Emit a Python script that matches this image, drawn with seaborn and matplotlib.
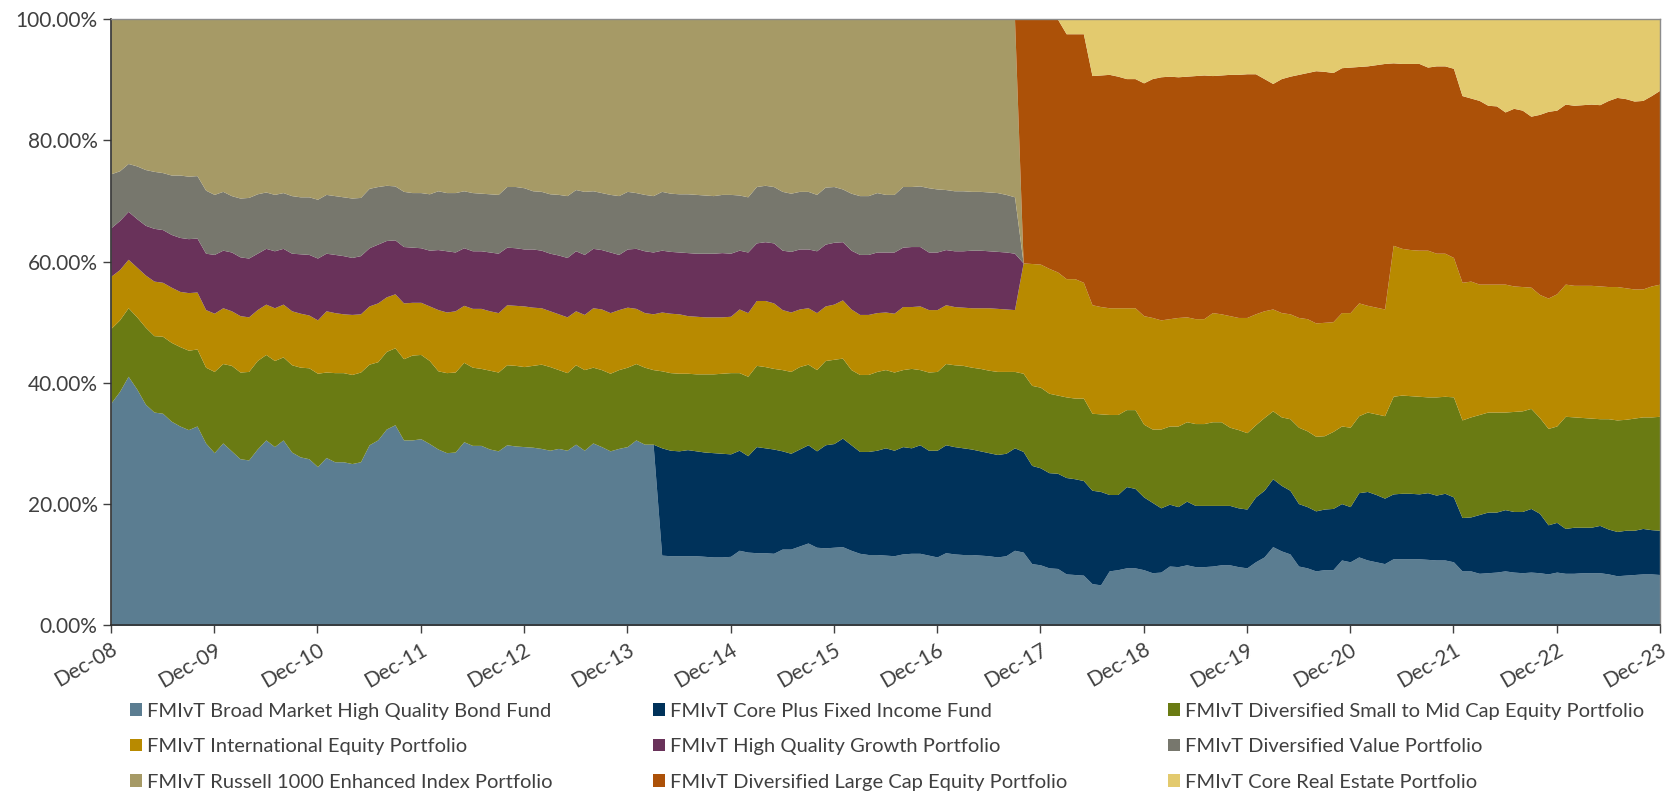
import matplotlib

matplotlib.use("Agg")
import matplotlib.pyplot as plt
import numpy as np
import seaborn as sns
from matplotlib.patches import Patch
from matplotlib.ticker import FuncFormatter

# monthly allocation (%) Dec-08 .. Dec-23
TICK_LABELS = ["Dec-08", "Dec-09", "Dec-10", "Dec-11", "Dec-12", "Dec-13", "Dec-14", "Dec-15",
               "Dec-16", "Dec-17", "Dec-18", "Dec-19", "Dec-20", "Dec-21", "Dec-22", "Dec-23"]

SERIES_NAMES = [
    "FMIvT Broad Market High Quality Bond Fund",
    "FMIvT Core Plus Fixed Income Fund",
    "FMIvT Diversified Small to Mid Cap Equity Portfolio",
    "FMIvT International Equity Portfolio",
    "FMIvT High Quality Growth Portfolio",
    "FMIvT Diversified Value Portfolio",
    "FMIvT Russell 1000 Enhanced Index Portfolio",
    "FMIvT Diversified Large Cap Equity Portfolio",
    "FMIvT Core Real Estate Portfolio",
]
COLORS = ["#5b7d91", "#00325a", "#6a7b13", "#b88a00", "#69325a",
          "#77776d", "#a69a66", "#ac5108", "#e3ca6e"]

bond = [
    36.7, 38.6, 41.1, 39.0, 36.5, 35.2, 35.0, 33.7, 32.9, 32.3,
    32.9, 30.1, 28.5, 30.1, 28.8, 27.5, 27.3, 29.1, 30.6, 29.5,
    30.6, 28.6, 27.8, 27.5, 26.2, 27.7, 27.0, 27.0, 26.7, 27.0,
    29.8, 30.6, 32.4, 33.1, 30.6, 30.6, 30.8, 30.0, 29.1, 28.5,
    28.6, 30.3, 29.7, 29.7, 29.1, 28.8, 29.8, 29.6, 29.5, 29.4,
    29.2, 28.9, 29.2, 28.9, 29.9, 28.9, 30.1, 29.5, 28.8, 29.2,
    29.5, 30.6, 29.9, 29.9, 11.6, 11.5, 11.5, 11.5, 11.5, 11.4,
    11.3, 11.3, 11.4, 12.4, 12.1, 12.0, 12.0, 11.9, 12.6, 12.6,
    13.1, 13.6, 12.9, 12.8, 12.9, 13.0, 12.4, 11.9, 11.7, 11.7,
    11.6, 11.5, 11.8, 11.9, 11.9, 11.6, 11.3, 12.0, 11.8, 11.7,
    11.7, 11.6, 11.5, 11.3, 11.5, 12.4, 12.1, 10.2, 10.0, 9.5,
    9.4, 8.5, 8.4, 8.3, 6.9, 6.7, 9.0, 9.2, 9.5, 9.5,
    9.2, 8.7, 8.8, 9.8, 9.7, 10.0, 9.7, 9.7, 9.8, 10.0,
    10.0, 9.7, 9.5, 10.5, 11.3, 13.0, 12.3, 11.8, 9.8, 9.5,
    9.0, 9.2, 9.2, 10.8, 10.5, 11.3, 10.8, 10.5, 10.2, 11.0,
    11.0, 11.0, 11.0, 10.9, 10.8, 10.8, 10.5, 9.0, 9.0, 8.6,
    8.7, 8.8, 9.0, 8.8, 8.7, 8.8, 8.7, 8.5, 8.8, 8.6,
    8.6, 8.7, 8.7, 8.7, 8.5, 8.2, 8.3, 8.4, 8.5, 8.5, 8.4,
]

core_plus = [
    0.0, 0.0, 0.0, 0.0, 0.0, 0.0, 0.0, 0.0, 0.0, 0.0,
    0.0, 0.0, 0.0, 0.0, 0.0, 0.0, 0.0, 0.0, 0.0, 0.0,
    0.0, 0.0, 0.0, 0.0, 0.0, 0.0, 0.0, 0.0, 0.0, 0.0,
    0.0, 0.0, 0.0, 0.0, 0.0, 0.0, 0.0, 0.0, 0.0, 0.0,
    0.0, 0.0, 0.0, 0.0, 0.0, 0.0, 0.0, 0.0, 0.0, 0.0,
    0.0, 0.0, 0.0, 0.0, 0.0, 0.0, 0.0, 0.0, 0.0, 0.0,
    0.0, 0.0, 0.0, 0.0, 17.7, 17.4, 17.3, 17.5, 17.3, 17.2,
    17.2, 17.1, 16.9, 16.5, 15.9, 17.5, 17.3, 17.2, 16.2, 15.8,
    16.0, 16.2, 15.9, 17.0, 17.1, 17.9, 17.4, 16.8, 17.0, 17.2,
    17.7, 17.4, 17.7, 17.4, 17.9, 17.3, 17.6, 17.8, 17.7, 17.6,
    17.4, 17.2, 17.0, 16.9, 16.9, 16.9, 16.6, 16.2, 16.0, 15.7,
    15.7, 15.9, 15.8, 15.6, 15.4, 15.4, 12.6, 12.4, 13.4, 13.1,
    12.0, 11.6, 10.6, 10.2, 9.9, 10.5, 10.1, 10.1, 10.0, 9.8,
    9.8, 9.7, 9.7, 10.7, 11.0, 11.2, 10.8, 10.5, 10.3, 10.1,
    9.9, 10.0, 10.1, 9.3, 9.1, 10.6, 11.3, 11.1, 10.8, 10.7,
    10.8, 10.8, 10.7, 11.0, 10.7, 11.0, 10.7, 8.8, 8.9, 9.7,
    10.0, 9.9, 10.1, 10.0, 10.1, 10.5, 9.8, 8.1, 8.2, 7.4,
    7.6, 7.5, 7.5, 7.8, 7.4, 7.3, 7.4, 7.3, 7.5, 7.3, 7.3,
]

small_mid_cap = [
    12.3, 11.8, 11.3, 11.9, 12.7, 12.6, 12.7, 13.0, 13.1, 13.1,
    12.7, 12.5, 13.4, 13.1, 14.1, 14.3, 14.6, 14.6, 14.1, 14.2,
    13.7, 14.4, 14.8, 15.0, 15.4, 14.1, 14.7, 14.7, 14.7, 14.8,
    13.3, 12.9, 12.8, 12.7, 13.4, 14.0, 13.9, 13.7, 12.9, 13.2,
    13.2, 13.1, 12.9, 12.7, 13.0, 13.0, 13.2, 13.3, 13.2, 13.5,
    13.9, 13.8, 13.0, 12.8, 13.1, 13.3, 12.5, 12.7, 12.8, 13.0,
    13.1, 12.6, 12.7, 12.3, 12.7, 12.8, 12.8, 12.6, 12.7, 12.9,
    13.0, 13.2, 13.4, 12.8, 13.1, 13.4, 13.4, 13.3, 13.4, 13.5,
    13.6, 13.3, 13.4, 13.9, 13.9, 13.2, 12.4, 12.7, 12.7, 13.0,
    12.9, 12.9, 12.7, 13.1, 12.4, 12.9, 13.0, 13.4, 13.5, 13.6,
    13.5, 13.6, 13.6, 13.7, 13.5, 12.6, 12.9, 13.2, 13.3, 13.1,
    12.9, 13.3, 13.3, 13.6, 12.7, 12.8, 13.2, 13.2, 12.7, 13.0,
    12.0, 12.1, 13.0, 12.9, 13.3, 13.1, 13.5, 13.5, 13.8, 13.8,
    12.9, 12.9, 12.6, 11.9, 12.0, 11.2, 11.3, 11.8, 12.6, 12.5,
    12.3, 12.1, 12.7, 12.8, 13.1, 12.7, 13.1, 13.3, 13.6, 16.1,
    16.2, 16.1, 16.1, 15.8, 16.2, 16.0, 16.5, 16.1, 16.5, 16.5,
    16.5, 16.5, 16.1, 16.5, 16.6, 16.5, 15.8, 15.9, 15.9, 18.5,
    18.2, 18.1, 18.0, 17.6, 18.2, 18.4, 18.3, 18.5, 18.4, 18.6, 18.8,
]

international = [
    8.6, 8.3, 8.0, 8.2, 8.6, 9.0, 8.9, 9.1, 9.1, 9.5,
    9.4, 9.5, 9.6, 9.2, 9.0, 9.3, 9.0, 8.4, 8.3, 8.7,
    8.7, 8.9, 8.9, 8.7, 8.8, 10.1, 9.9, 9.7, 9.9, 9.6,
    9.6, 9.7, 9.0, 8.9, 9.2, 8.7, 8.6, 9.0, 10.1, 10.0,
    10.1, 9.4, 9.7, 9.9, 9.8, 9.8, 9.9, 9.9, 10.0, 9.6,
    9.3, 9.2, 9.2, 9.2, 8.9, 9.1, 9.8, 10.0, 10.0, 9.9,
    9.9, 9.1, 9.0, 9.2, 9.7, 9.8, 9.8, 9.5, 9.5, 9.4,
    9.4, 9.3, 9.3, 10.5, 10.5, 10.7, 10.9, 10.8, 9.9, 9.8,
    9.5, 9.3, 9.4, 9.0, 9.1, 9.6, 10.0, 9.9, 9.9, 9.7,
    9.5, 9.7, 10.4, 10.2, 10.5, 10.3, 10.2, 9.7, 9.6, 9.6,
    9.8, 10.0, 10.3, 10.4, 10.3, 10.2, 18.2, 20.1, 20.3, 20.6,
    20.3, 19.5, 19.7, 19.1, 17.9, 17.7, 17.6, 17.6, 16.8, 16.8,
    17.9, 18.4, 18.0, 17.7, 17.9, 17.3, 17.3, 17.3, 18.0, 17.8,
    18.4, 18.5, 19.0, 18.3, 17.6, 16.8, 17.2, 17.3, 18.1, 18.5,
    18.7, 18.7, 18.1, 18.7, 18.9, 18.6, 17.6, 17.6, 17.6, 24.9,
    24.2, 24.1, 24.1, 24.2, 23.7, 23.6, 23.0, 22.7, 22.4, 21.5,
    21.1, 21.1, 21.1, 20.7, 20.5, 20.0, 20.3, 21.5, 21.8, 21.8,
    21.7, 21.8, 21.9, 21.9, 21.8, 22.0, 21.7, 21.3, 21.1, 21.6, 21.8,
]

quality_growth = [
    8.0, 8.1, 7.9, 8.0, 8.2, 8.7, 8.7, 8.7, 8.9, 8.9,
    8.9, 9.3, 9.7, 9.5, 9.7, 9.7, 9.7, 9.3, 9.2, 9.4,
    9.2, 9.5, 9.8, 10.0, 10.2, 9.5, 9.6, 9.6, 9.4, 9.6,
    9.6, 9.7, 9.3, 8.9, 9.3, 9.1, 9.0, 9.2, 9.9, 10.1,
    9.7, 9.5, 9.5, 9.5, 9.7, 9.8, 9.5, 9.5, 9.4, 9.6,
    9.5, 9.5, 9.7, 9.8, 9.9, 9.9, 9.8, 9.8, 10.0, 9.1,
    9.6, 9.9, 10.2, 10.2, 10.2, 10.2, 10.2, 10.4, 10.4, 10.5,
    10.5, 10.6, 10.4, 9.7, 10.0, 9.5, 9.7, 9.9, 9.8, 10.0,
    9.9, 9.7, 10.2, 10.2, 10.2, 9.6, 9.7, 9.9, 9.9, 10.0,
    9.9, 10.1, 9.8, 9.9, 9.8, 9.5, 9.5, 9.1, 9.2, 9.3,
    9.5, 9.5, 9.4, 9.4, 9.4, 9.3, 0.0, 0.0, 0.0, 0.0,
    0.0, 0.0, 0.0, 0.0, 0.0, 0.0, 0.0, 0.0, 0.0, 0.0,
    0.0, 0.0, 0.0, 0.0, 0.0, 0.0, 0.0, 0.0, 0.0, 0.0,
    0.0, 0.0, 0.0, 0.0, 0.0, 0.0, 0.0, 0.0, 0.0, 0.0,
    0.0, 0.0, 0.0, 0.0, 0.0, 0.0, 0.0, 0.0, 0.0, 0.0,
    0.0, 0.0, 0.0, 0.0, 0.0, 0.0, 0.0, 0.0, 0.0, 0.0,
    0.0, 0.0, 0.0, 0.0, 0.0, 0.0, 0.0, 0.0, 0.0, 0.0,
    0.0, 0.0, 0.0, 0.0, 0.0, 0.0, 0.0, 0.0, 0.0, 0.0, 0.0,
]

diversified_value = [
    8.9, 8.2, 7.9, 8.7, 9.2, 9.4, 9.4, 9.8, 10.3, 10.3,
    10.3, 10.4, 9.9, 9.7, 9.3, 9.7, 10.0, 9.8, 9.3, 9.3,
    9.2, 9.5, 9.4, 9.5, 9.7, 9.7, 9.7, 9.7, 9.8, 9.6,
    9.8, 9.5, 9.1, 8.9, 9.1, 9.0, 9.1, 9.3, 9.7, 9.6,
    9.8, 9.4, 9.6, 9.5, 9.6, 9.7, 10.0, 10.1, 10.1, 9.6,
    9.7, 9.8, 10.0, 10.2, 10.1, 10.4, 9.5, 9.4, 9.5, 9.7,
    9.5, 9.2, 9.3, 9.3, 9.7, 9.6, 9.6, 9.7, 9.7, 9.6,
    9.5, 9.6, 9.7, 9.1, 9.1, 9.3, 9.3, 9.3, 9.7, 9.6,
    9.5, 9.5, 9.3, 9.4, 9.2, 8.7, 9.4, 9.7, 9.7, 9.8,
    9.5, 9.5, 10.0, 9.9, 10.0, 10.6, 10.4, 9.9, 9.9, 9.9,
    9.7, 9.7, 9.7, 9.7, 9.5, 9.3, 0.0, 0.0, 0.0, 0.0,
    0.0, 0.0, 0.0, 0.0, 0.0, 0.0, 0.0, 0.0, 0.0, 0.0,
    0.0, 0.0, 0.0, 0.0, 0.0, 0.0, 0.0, 0.0, 0.0, 0.0,
    0.0, 0.0, 0.0, 0.0, 0.0, 0.0, 0.0, 0.0, 0.0, 0.0,
    0.0, 0.0, 0.0, 0.0, 0.0, 0.0, 0.0, 0.0, 0.0, 0.0,
    0.0, 0.0, 0.0, 0.0, 0.0, 0.0, 0.0, 0.0, 0.0, 0.0,
    0.0, 0.0, 0.0, 0.0, 0.0, 0.0, 0.0, 0.0, 0.0, 0.0,
    0.0, 0.0, 0.0, 0.0, 0.0, 0.0, 0.0, 0.0, 0.0, 0.0, 0.0,
]

russell_1000 = [
    25.5, 25.0, 23.8, 24.2, 24.8, 25.1, 25.3, 25.7, 25.7, 25.9,
    25.8, 28.2, 28.9, 28.4, 29.1, 29.5, 29.4, 28.8, 28.5, 28.9,
    28.6, 29.1, 29.3, 29.3, 29.7, 28.9, 29.1, 29.3, 29.5, 29.4,
    27.9, 27.6, 27.4, 27.5, 28.4, 28.6, 28.6, 28.8, 28.3, 28.6,
    28.6, 28.3, 28.6, 28.7, 28.8, 28.9, 27.6, 27.6, 27.8, 28.3,
    28.4, 28.8, 28.9, 29.1, 28.1, 28.4, 28.3, 28.6, 28.9, 29.1,
    28.4, 28.6, 28.9, 29.1, 28.4, 28.7, 28.8, 28.8, 28.9, 29.0,
    29.1, 28.9, 28.9, 29.0, 29.3, 27.6, 27.4, 27.6, 28.4, 28.7,
    28.4, 28.4, 28.9, 27.7, 27.6, 28.0, 28.7, 29.1, 29.1, 28.6,
    28.9, 28.9, 27.6, 27.6, 27.5, 27.8, 28.0, 28.1, 28.3, 28.3,
    28.4, 28.4, 28.5, 28.6, 28.9, 29.3, 0.0, 0.0, 0.0, 0.0,
    0.0, 0.0, 0.0, 0.0, 0.0, 0.0, 0.0, 0.0, 0.0, 0.0,
    0.0, 0.0, 0.0, 0.0, 0.0, 0.0, 0.0, 0.0, 0.0, 0.0,
    0.0, 0.0, 0.0, 0.0, 0.0, 0.0, 0.0, 0.0, 0.0, 0.0,
    0.0, 0.0, 0.0, 0.0, 0.0, 0.0, 0.0, 0.0, 0.0, 0.0,
    0.0, 0.0, 0.0, 0.0, 0.0, 0.0, 0.0, 0.0, 0.0, 0.0,
    0.0, 0.0, 0.0, 0.0, 0.0, 0.0, 0.0, 0.0, 0.0, 0.0,
    0.0, 0.0, 0.0, 0.0, 0.0, 0.0, 0.0, 0.0, 0.0, 0.0, 0.0,
]

large_cap = [
    0.0, 0.0, 0.0, 0.0, 0.0, 0.0, 0.0, 0.0, 0.0, 0.0,
    0.0, 0.0, 0.0, 0.0, 0.0, 0.0, 0.0, 0.0, 0.0, 0.0,
    0.0, 0.0, 0.0, 0.0, 0.0, 0.0, 0.0, 0.0, 0.0, 0.0,
    0.0, 0.0, 0.0, 0.0, 0.0, 0.0, 0.0, 0.0, 0.0, 0.0,
    0.0, 0.0, 0.0, 0.0, 0.0, 0.0, 0.0, 0.0, 0.0, 0.0,
    0.0, 0.0, 0.0, 0.0, 0.0, 0.0, 0.0, 0.0, 0.0, 0.0,
    0.0, 0.0, 0.0, 0.0, 0.0, 0.0, 0.0, 0.0, 0.0, 0.0,
    0.0, 0.0, 0.0, 0.0, 0.0, 0.0, 0.0, 0.0, 0.0, 0.0,
    0.0, 0.0, 0.0, 0.0, 0.0, 0.0, 0.0, 0.0, 0.0, 0.0,
    0.0, 0.0, 0.0, 0.0, 0.0, 0.0, 0.0, 0.0, 0.0, 0.0,
    0.0, 0.0, 0.0, 0.0, 0.0, 0.0, 40.2, 40.3, 40.4, 41.1,
    41.7, 40.4, 40.4, 41.0, 37.8, 38.2, 38.5, 38.2, 37.8, 37.8,
    38.4, 39.4, 40.1, 40.0, 39.7, 39.7, 40.1, 40.2, 39.1, 39.4,
    39.8, 40.1, 40.2, 39.6, 38.3, 37.2, 38.6, 39.2, 40.1, 40.6,
    41.6, 41.4, 41.1, 40.4, 40.5, 39.0, 39.5, 40.0, 40.5, 30.1,
    30.5, 30.7, 30.8, 30.2, 30.9, 30.9, 31.2, 30.8, 30.2, 30.3,
    29.5, 29.4, 28.4, 29.3, 29.1, 28.2, 29.7, 30.8, 30.3, 29.7,
    29.7, 29.8, 29.9, 29.9, 30.7, 31.2, 31.2, 31.0, 31.1, 31.4, 32.0,
]

real_estate = [
    0.0, 0.0, 0.0, 0.0, 0.0, 0.0, 0.0, 0.0, 0.0, 0.0,
    0.0, 0.0, 0.0, 0.0, 0.0, 0.0, 0.0, 0.0, 0.0, 0.0,
    0.0, 0.0, 0.0, 0.0, 0.0, 0.0, 0.0, 0.0, 0.0, 0.0,
    0.0, 0.0, 0.0, 0.0, 0.0, 0.0, 0.0, 0.0, 0.0, 0.0,
    0.0, 0.0, 0.0, 0.0, 0.0, 0.0, 0.0, 0.0, 0.0, 0.0,
    0.0, 0.0, 0.0, 0.0, 0.0, 0.0, 0.0, 0.0, 0.0, 0.0,
    0.0, 0.0, 0.0, 0.0, 0.0, 0.0, 0.0, 0.0, 0.0, 0.0,
    0.0, 0.0, 0.0, 0.0, 0.0, 0.0, 0.0, 0.0, 0.0, 0.0,
    0.0, 0.0, 0.0, 0.0, 0.0, 0.0, 0.0, 0.0, 0.0, 0.0,
    0.0, 0.0, 0.0, 0.0, 0.0, 0.0, 0.0, 0.0, 0.0, 0.0,
    0.0, 0.0, 0.0, 0.0, 0.0, 0.0, 0.0, 0.0, 0.0, 0.0,
    0.0, 2.4, 2.4, 2.4, 9.3, 9.2, 9.1, 9.4, 9.8, 9.8,
    10.5, 9.8, 9.5, 9.4, 9.5, 9.4, 9.3, 9.2, 9.3, 9.2,
    9.1, 9.1, 9.0, 9.0, 9.8, 10.6, 9.8, 9.4, 9.1, 8.8,
    8.5, 8.6, 8.8, 8.0, 7.9, 7.8, 7.7, 7.5, 7.3, 7.2,
    7.3, 7.3, 7.3, 7.9, 7.7, 7.7, 8.1, 12.6, 13.0, 13.4,
    14.2, 14.3, 15.3, 14.7, 15.0, 16.0, 15.7, 15.2, 15.0, 14.0,
    14.2, 14.1, 14.0, 14.1, 13.4, 12.9, 13.1, 13.5, 13.4, 12.6, 11.7,
]

TEXT_COLOR = "#404040"


def main() -> None:
    sns.set_theme(style="white")
    plt.rcParams["font.family"] = ["Lato", "DejaVu Sans"]

    series = [bond, core_plus, small_mid_cap, international, quality_growth,
              diversified_value, russell_1000, large_cap, real_estate]
    palette = sns.color_palette(COLORS)
    months = np.arange(len(bond))

    fig = plt.figure(figsize=(16.73, 7.93), dpi=100)
    ax = fig.add_axes([0.0663, 0.2113, 0.9259, 0.7645])
    ax.stackplot(months, *series, colors=palette, linewidth=0)

    ax.set_xlim(0, len(bond) - 1)
    ax.set_ylim(0, 100)
    ax.set_yticks(range(0, 101, 20))
    ax.yaxis.set_major_formatter(FuncFormatter(lambda v, _: f"{v:.2f}%"))
    ax.set_xticks(range(0, len(bond), 12))
    ax.set_xticklabels(TICK_LABELS, rotation=30, ha="right", rotation_mode="anchor")

    ax.tick_params(axis="both", which="major", labelsize=15, colors=TEXT_COLOR,
                   direction="out", length=6, width=1, left=True, bottom=True)
    ax.tick_params(axis="x", pad=4)
    for side in ("left", "bottom"):
        ax.spines[side].set_color("#303030")
        ax.spines[side].set_linewidth(1.2)
    for side in ("top", "right"):
        ax.spines[side].set_color("#8c8c8c")
        ax.spines[side].set_linewidth(1.0)
    ax.grid(False)

    # legend rows run left to right, matplotlib fills by column
    order = [0, 3, 6, 1, 4, 7, 2, 5, 8]
    handles = [Patch(facecolor=COLORS[i], edgecolor="none") for i in order]
    labels = [SERIES_NAMES[i] for i in order]
    fig.legend(handles, labels, loc="upper left", bbox_to_anchor=(0.0775, 0.114),
               ncol=3, frameon=False, fontsize=14.5, labelcolor=TEXT_COLOR,
               handlelength=0.6, handleheight=0.6, handletextpad=0.25,
               columnspacing=5.0, labelspacing=0.92, borderpad=0, borderaxespad=0)

    fig.savefig("out.png", dpi=100)
    plt.close(fig)


if __name__ == "__main__":
    main()
